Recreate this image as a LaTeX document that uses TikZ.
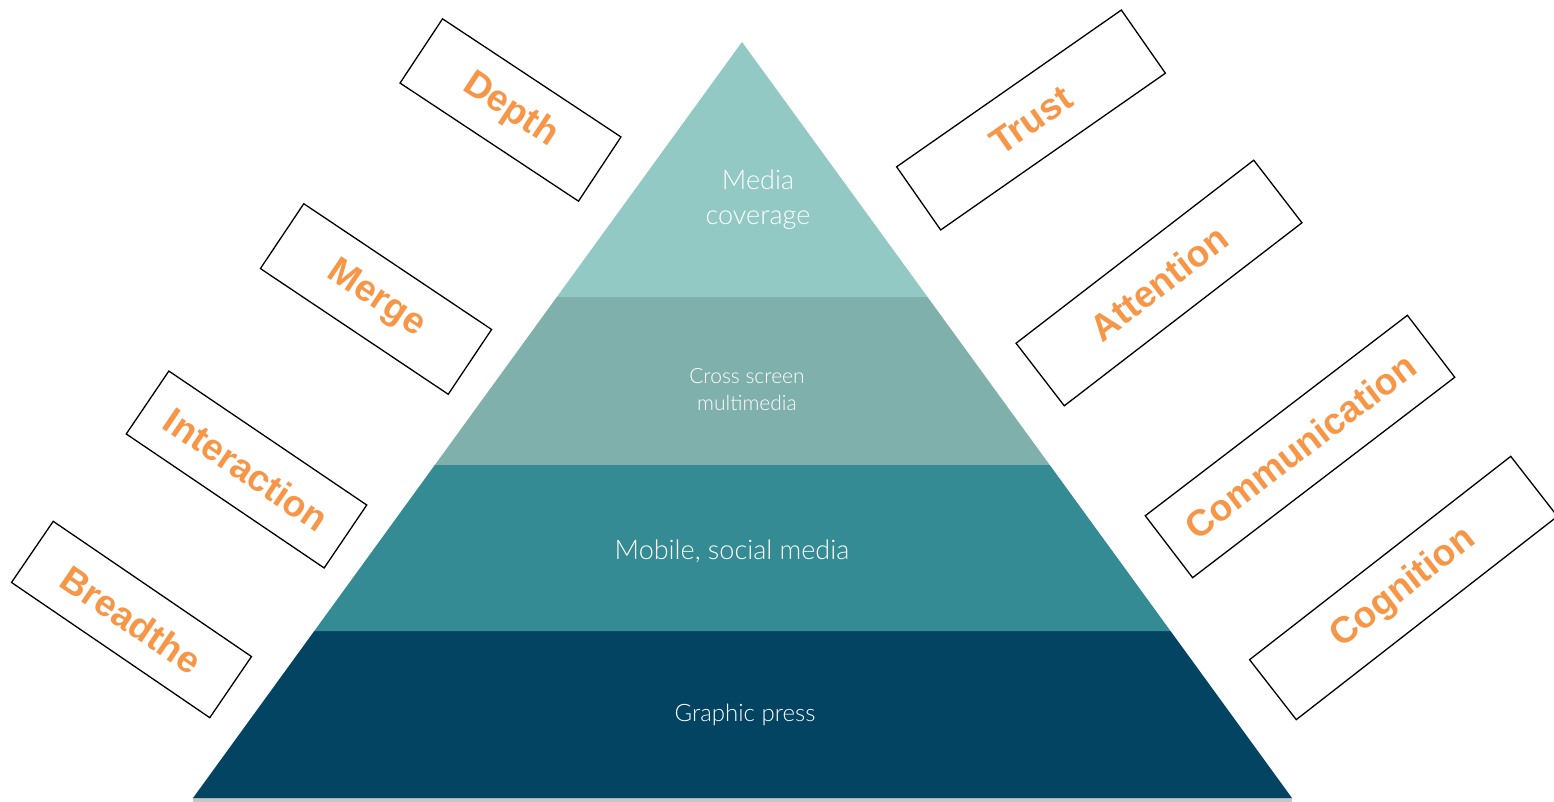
\documentclass[tikz,border=0pt]{standalone}
\usepackage{fontspec}
\setmainfont{Liberation Sans}
\newfontfamily\layerfont{Lato}[UprightFont={* Light}]
\usepackage{tikz}
\usetikzlibrary{calc}
\definecolor{orange1} {RGB} {247, 150, 70}
\definecolor{teal1} {RGB} {147, 201, 197}
\definecolor{teal2} {RGB} {128, 176, 171}
\definecolor{teal3} {RGB} {53, 139, 147}
\definecolor{navy1} {RGB} {3, 68, 99}
\tikzstyle{pyr}=[
  x=1pt, y=-1pt
]
\tikzstyle{tagbox}=[
  draw, line width=1.3pt, inner sep=0pt, text=orange1,
  font=\fontsize{37}{37}\selectfont\bfseries
]
\tikzstyle{layertext}=[
  text=white, align=center
]

\begin{document}
\begin{tikzpicture}[pyr]

    \useasboundingbox (0,0) rectangle (1554,802);
    \coordinate (apex) at (742,42);
    \coordinate (bl) at (193,798);
    \coordinate (br) at (1292,798);

    % pyramid layers
    \fill [gray!45] (193,798) rectangle (1292,802);
    \fill [navy1] ($(apex)!0.7791!(bl)$) -- (bl) -- (br) -- ($(apex)!0.7791!(br)$) -- cycle;
    \fill [teal3] ($(apex)!0.5595!(bl)$) -- ($(apex)!0.7791!(bl)$) -- ($(apex)!0.7791!(br)$) -- ($(apex)!0.5595!(br)$) -- cycle;
    \fill [teal2] ($(apex)!0.3373!(bl)$) -- ($(apex)!0.5595!(bl)$) -- ($(apex)!0.5595!(br)$) -- ($(apex)!0.3373!(br)$) -- cycle;
    \fill [teal1] (apex) -- ($(apex)!0.3373!(bl)$) -- ($(apex)!0.3373!(br)$) -- cycle;

    \node (media) [layertext, font=\layerfont\fontsize{27}{35}\selectfont] at (758,200) {Media\\coverage};
    \node (cross) [layertext, font=\layerfont\fontsize{21}{27}\selectfont] at (747,390) {Cross screen\\multimedia};
    \node (mobile) [layertext, font=\layerfont\fontsize{27}{30}\selectfont] at (732,551) {Mobile, social media};
    \node (graphic) [layertext, font=\layerfont\fontsize{24}{28}\selectfont] at (745,715) {Graphic press};

    % left tags
    \node (depth) [tagbox, minimum width=214, minimum height=77, rotate=-33.5] at (510.5,110) {Depth};
    \node (merge) [tagbox, minimum width=226, minimum height=78, rotate=-33.8] at (376,299) {Merge};
    \node (interaction) [tagbox, minimum width=239, minimum height=76, rotate=-34.1] at (246.5,469.5) {Interaction};
    \node (breadthe) [tagbox, minimum width=240, minimum height=74, rotate=-34.3] at (131.5,619.5) {Breadthe};

    % right tags
    \node (trust) [tagbox, minimum width=274, minimum height=77, rotate=34.9] at (1031,120) {Trust};
    \node (attention) [tagbox, minimum width=300, minimum height=79, rotate=37.6] at (1159,283) {Attention};
    \node (communication) [tagbox, minimum width=330, minimum height=78, rotate=37.4] at (1300,446.5) {Communication};
    \node (cognition) [tagbox, minimum width=331, minimum height=76, rotate=37.9] at (1403.5,588) {Cognition};

\end{tikzpicture}
\end{document}
